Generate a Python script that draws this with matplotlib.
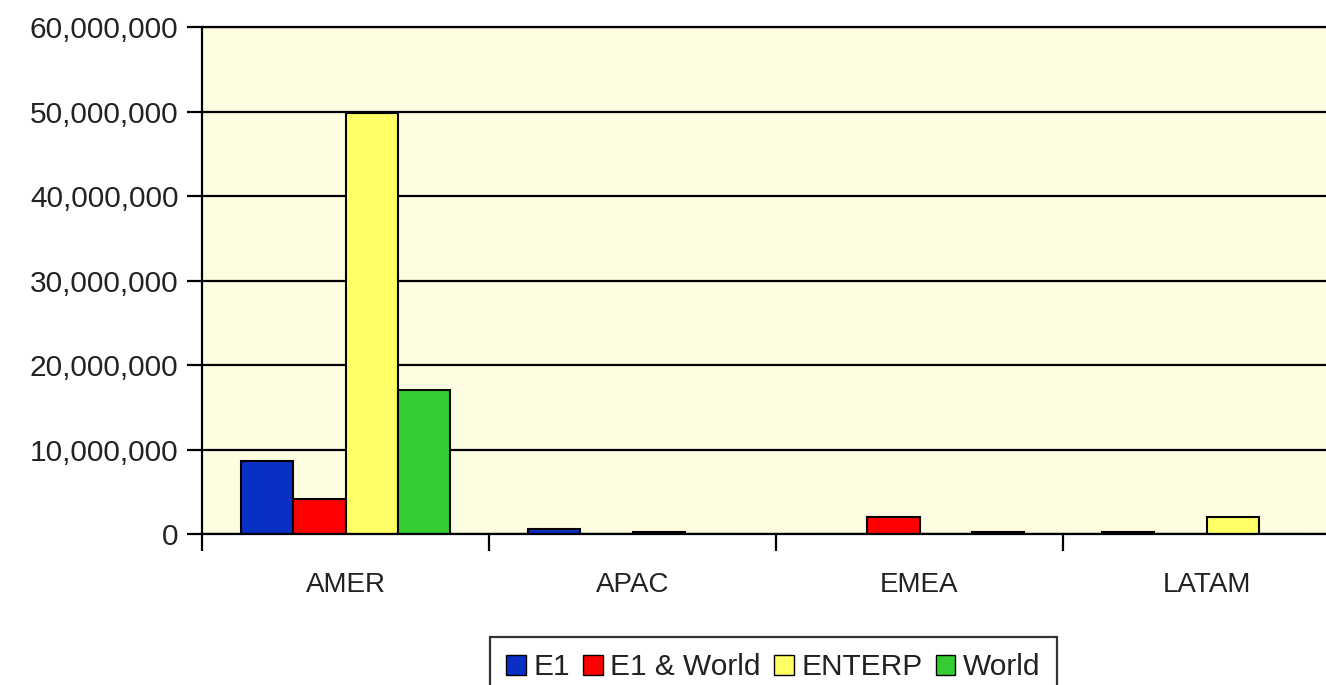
import matplotlib
matplotlib.use('Agg')
import matplotlib.pyplot as plt
from matplotlib.patches import Patch
from matplotlib.ticker import FuncFormatter, MultipleLocator
import numpy as np

regions = ['AMER', 'APAC', 'EMEA', 'LATAM']
series = ['E1', 'E1 & World', 'ENTERP', 'World']
e1 = [8600000, 650000, 0, 250000]
e1_world = [4100000, 0, 2000000, 0]
enterp = [49900000, 250000, 0, 2000000]
world = [17000000, 0, 250000, 0]
colors = ['#0A2FC4', '#FF0000', '#FFFF66', '#33CC33']

plt.rcParams['font.family'] = ['Liberation Sans', 'DejaVu Sans']

fig = plt.figure(figsize=(13.26, 6.85), dpi=100)
ax = fig.add_axes([202 / 1326, 1 - 534 / 685, 1148 / 1326, 506.5 / 685])
ax.set_facecolor('#FFFDE1')

x = np.arange(len(regions))
w = 1 / 5.5
for i, (vals, col) in enumerate(zip([e1, e1_world, enterp, world], colors)):
    ax.bar(x + (i - 1.5) * w, vals, width=w, color=col, edgecolor='black',
           linewidth=1.5, zorder=3)

ax.set_xlim(-0.5, 3.5)
ax.set_ylim(0, 60000000)
ax.yaxis.set_major_locator(MultipleLocator(10000000))
ax.yaxis.set_major_formatter(FuncFormatter(lambda v, p: f'{int(v):,}'))
ax.grid(axis='y', color='black', linewidth=1.6, zorder=1)
ax.axhline(60000000, color='black', linewidth=1.6, clip_on=False, zorder=2)

# category boundaries as tick marks, names centred between them
ax.set_xticks(np.arange(-0.5, 4.0, 1.0))
ax.set_xticklabels([])
ax.set_xticks(x, minor=True)
ax.set_xticklabels(regions, minor=True)
ax.tick_params(axis='x', which='major', length=12, width=1.6, color='black')
ax.tick_params(axis='x', which='minor', length=0, pad=27, labelsize=20,
               labelcolor='#222222')
ax.tick_params(axis='y', length=11, width=1.6, color='black', pad=6,
               labelsize=21.5, labelcolor='#222222')

for side in ['top', 'right']:
    ax.spines[side].set_visible(False)
ax.spines['left'].set_linewidth(1.6)
ax.spines['bottom'].set_linewidth(1.6)
ax.spines['bottom'].set_zorder(4)

handles = [Patch(facecolor=c, edgecolor='black', linewidth=1.0) for c in colors]
leg = fig.legend(handles, series, loc='upper left',
                 bbox_to_anchor=(490 / 1326, 1 - 637 / 685), ncol=4,
                 frameon=True, fancybox=False, edgecolor='black',
                 fontsize=21.5, handlelength=0.65, handleheight=0.65,
                 handletextpad=0.25, columnspacing=0.45, borderpad=0.55,
                 borderaxespad=0)
leg.get_frame().set_linewidth(1.6)
for t in leg.get_texts():
    t.set_color('#222222')

fig.savefig('out.png', dpi=100)
